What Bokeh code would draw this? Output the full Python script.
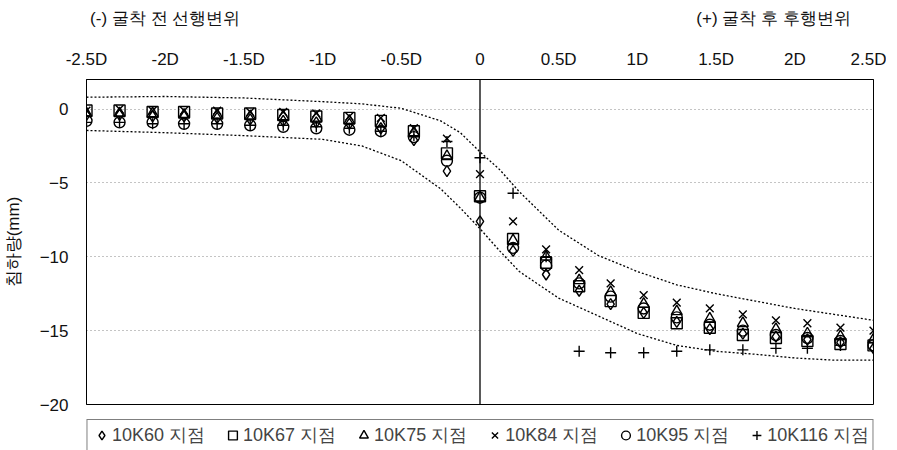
from bokeh.plotting import figure
from bokeh.models import Range1d, FixedTicker, Span, Legend, LegendItem, LinearAxis
from bokeh.embed import file_html
from bokeh.resources import INLINE

# station positions (in units of D) and series values (mm)
STATIONS = [-2.5, -2.29, -2.08, -1.88, -1.67, -1.46, -1.25, -1.04, -0.83, -0.63, -0.42, -0.21,
            0.0, 0.21, 0.42, 0.63, 0.83, 1.04, 1.25, 1.46, 1.67, 1.88, 2.08, 2.29, 2.5]

K60 = [-0.4, -0.4, -0.5, -0.5, -0.6, -0.7, -0.8, -0.9, -1.0, -1.3, -2.1, -4.2,
       -7.6, -9.6, -11.2, -12.3, -13.2, -13.8, -14.4, -14.9, -15.2, -15.4, -15.6, -15.8, -16.2]
K67 = [-0.1, -0.1, -0.2, -0.2, -0.3, -0.3, -0.4, -0.5, -0.6, -0.8, -1.5, -3.0,
       -5.9, -8.8, -10.4, -12.0, -13.0, -13.8, -14.5, -14.8, -15.3, -15.5, -15.7, -15.9, -16.0]
K75 = [-0.3, -0.3, -0.3, -0.4, -0.4, -0.5, -0.5, -0.6, -0.8, -1.0, -1.6, -3.2,
       -6.0, -8.9, -10.0, -11.6, -12.4, -13.2, -13.7, -14.2, -14.5, -14.9, -15.2, -15.4, -15.6]
K84 = [-0.1, 0.0, -0.1, -0.1, -0.1, -0.2, -0.2, -0.3, -0.5, -0.6, -1.3, -2.0,
       -4.4, -7.6, -9.5, -10.9, -11.8, -12.6, -13.1, -13.5, -13.9, -14.3, -14.5, -14.8, -15.0]
K95 = [-0.8, -0.9, -0.9, -1.0, -1.0, -1.1, -1.2, -1.3, -1.4, -1.5, -1.9, -3.5,
       -6.0, -9.4, -10.6, -11.8, -12.7, -13.5, -14.1, -14.6, -15.0, -15.3, -15.5, -15.7, -16.0]
K116 = [-0.9, -0.9, -1.0, -1.0, -1.0, -1.1, -1.1, -1.2, -1.3, -1.5, -1.8, -2.2,
        -3.3, -5.7, -10.0, -16.4, -16.5, -16.5, -16.4, -16.3, -16.3, -16.2, -16.2, -16.0, -15.8]

SERIES_NAMES = ["10K60 지점", "10K67 지점", "10K75 지점", "10K84 지점", "10K95 지점", "10K116 지점"]
SERIES_MARKERS = ["diamond", "square", "triangle", "x", "circle", "cross"]

# envelope (dotted) bounds
ENV_X = [-2.5, -2.0, -1.5, -1.0, -0.75, -0.5, -0.25, -0.125, 0.0, 0.125, 0.25, 0.5,
         0.75, 1.0, 1.25, 1.5, 1.75, 2.0, 2.25, 2.5]
ENV_UPPER = [0.8, 0.85, 0.75, 0.5, 0.35, 0.05, -0.8, -1.6, -2.9, -4.1, -5.6, -8.2,
             -9.9, -11.0, -11.9, -12.5, -13.0, -13.5, -13.9, -14.3]
ENV_LOWER = [-1.45, -1.6, -1.8, -2.05, -2.5, -3.5, -5.4, -6.7, -8.1, -9.6, -11.0, -12.8,
             -14.0, -15.2, -16.0, -16.4, -16.6, -16.85, -17.0, -17.0]

X_TICKS = [-2.5, -2.0, -1.5, -1.0, -0.5, 0.0, 0.5, 1.0, 1.5, 2.0, 2.5]
X_TICK_LABELS = ["-2.5D", "-2D", "-1.5D", "-1D", "-0.5D", "0", "0.5D", "1D", "1.5D", "2D", "2.5D"]
Y_TICKS = [0, -5, -10, -15, -20]

# side headings (placed over the negative and positive halves)
HEAD_POS = [-2.0, 1.865]
HEAD_TEXT = ["(-) 굴착 전 선행변위", "(+) 굴착 후 후행변위"]

NUM_FONT = "Liberation Sans"
KR_FONT = "Liberation Sans"

p = figure(frame_width=787, frame_height=325, x_range=Range1d(-2.5, 2.5), y_range=Range1d(-20, 2),
           x_axis_location="above", output_backend="svg", toolbar_location=None,
           min_border_left=81, min_border_right=13, min_border_top=79, min_border_bottom=10)

p.outline_line_color = "black"
p.outline_line_width = 1
p.xgrid.grid_line_color = None
p.ygrid.grid_line_color = "#888888"
p.ygrid.grid_line_dash = "1 3"
p.ygrid.ticker = FixedTicker(ticks=Y_TICKS)

p.xaxis.ticker = FixedTicker(ticks=X_TICKS)
p.xaxis.major_label_overrides = {t: l for t, l in zip(X_TICKS, X_TICK_LABELS)}
p.yaxis.ticker = FixedTicker(ticks=Y_TICKS)
for ax in (p.xaxis, p.yaxis):
    ax.major_tick_line_color = None
    ax.minor_tick_line_color = None
    ax.axis_line_color = "black"
    ax.major_label_text_font = NUM_FONT
    ax.major_label_text_font_size = "17px"
    ax.major_label_text_color = "#111111"
p.xaxis.major_label_standoff = 5
p.yaxis.major_label_standoff = 12
p.yaxis.axis_label = "침하량(mm)"
p.yaxis.axis_label_text_font = KR_FONT
p.yaxis.axis_label_text_font_style = "normal"
p.yaxis.axis_label_text_font_size = "17px"
p.yaxis.axis_label_text_color = "#111111"
p.yaxis.axis_label_standoff = 14

head_axis = LinearAxis(ticker=FixedTicker(ticks=HEAD_POS),
                       major_label_overrides={t: l for t, l in zip(HEAD_POS, HEAD_TEXT)},
                       axis_line_color=None, major_tick_line_color=None,
                       minor_tick_line_color=None, major_label_standoff=13,
                       major_label_text_font=KR_FONT, major_label_text_font_size="17px",
                       major_label_text_color="#111111")
p.add_layout(head_axis, "above")

p.line(ENV_X, ENV_UPPER, line_color="black", line_dash="2 2", line_width=1.3)
p.line(ENV_X, ENV_LOWER, line_color="black", line_dash="2 2", line_width=1.3)
p.add_layout(Span(location=0, dimension="height", line_color="black", line_width=1.3))

items = []
for name, marker, ys in zip(SERIES_NAMES, SERIES_MARKERS, [K60, K67, K75, K84, K95, K116]):
    r = p.scatter(STATIONS, ys, marker=marker, size=11, fill_color=None,
                  line_color="black", line_width=1.4)
    items.append(LegendItem(label=name, renderers=[r]))

legend = Legend(items=items, orientation="horizontal", location="top_center",
                label_text_font=KR_FONT, label_text_font_size="18px",
                glyph_width=22, glyph_height=22, label_standoff=0, spacing=16,
                padding=3, margin=15, border_line_color="black", border_line_width=1,
                background_fill_color="white", background_fill_alpha=1)
p.add_layout(legend, "below")

open("out.html", "w").write(file_html(p, INLINE))
